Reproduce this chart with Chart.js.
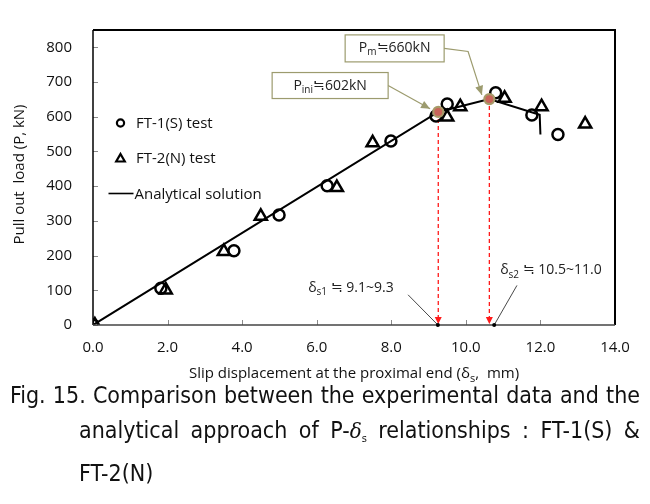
<!DOCTYPE html>
<html><head><meta charset="utf-8">
<script src="https://cdn.jsdelivr.net/npm/chart.js@4.4.1/dist/chart.umd.min.js"></script>
<style>
html,body{margin:0;padding:0;background:#fff;width:650px;height:504px;overflow:hidden;}
#wrap{position:absolute;left:0;top:0;width:650px;height:384px;}
#cap{position:absolute;left:10px;top:378px;width:630px;font-family:"Liberation Sans Narrow","DejaVu Sans Condensed",sans-serif;font-size:23px;line-height:35px;color:#111;}
.l{text-align:justify;text-align-last:justify;}
.ind{margin-left:69px;}
.l3{margin-left:69px;}
i{font-family:"DejaVu Serif",serif;font-size:20px;}
sub{font-size:11px;vertical-align:-4px;}
</style></head>
<body>
<div id="wrap"><canvas id="c" width="650" height="384"></canvas></div>
<div id="cap">
<div class="l">Fig. 15. Comparison between the experimental data and the</div>
<div class="l ind">analytical approach of P-<i>δ</i><sub>s</sub> relationships : FT-1(S) &amp;</div>
<div class="l3">FT-2(N)</div>
</div>
<script>
// ---- data ----
const xTickLabels = ['0.0','2.0','4.0','6.0','8.0','10.0','12.0','14.0'];
const yTickLabels = ['0','100','200','300','400','500','600','700','800'];
const ft1X = [0, 1.82, 3.78, 4.99, 6.28, 7.99, 9.2, 9.5, 10.8, 11.77, 12.47];
const ft1P = [0, 106, 214, 317, 401, 530, 602, 637, 669, 605, 549];
const ft2X = [0.05, 1.95, 3.51, 4.5, 6.54, 7.5, 9.5, 9.85, 11.04, 12.03, 13.2];
const ft2P = [0, 101, 212, 313, 396, 525, 599, 629, 653, 629, 579];
const anaX = [0, 9.26, 10.63, 11.98, 12.0];
const anaP = [0, 614, 651, 606, 549];
const keyX = [9.26, 10.63];
const keyP = [614, 651];
const seriesNames = ['FT-1(S) test','FT-2(N) test','Analytical solution'];

const pts = (xs, ys) => xs.map((x,i)=>({x:x, y:ys[i]}));
const FONT = '"Open Sans", sans-serif';

function drawParts(ctx, parts, x, y, size, color, align) {
  ctx.save();
  ctx.fillStyle = color; ctx.textBaseline = 'middle'; ctx.textAlign = 'left';
  let w = 0;
  parts.forEach(p => { ctx.font = (p[1] ? Math.round(size*0.72) : size) + 'px ' + FONT; w += ctx.measureText(p[0]).width; });
  let cx = align === 'center' ? x - w/2 : x;
  parts.forEach(p => {
    ctx.font = (p[1] ? Math.round(size*0.72) : size) + 'px ' + FONT;
    ctx.fillText(p[0], cx, p[1] ? y + size*0.3 : y);
    cx += ctx.measureText(p[0]).width;
  });
  ctx.restore();
}
function arrowHead(ctx, fx, fy, tx, ty, len, wid, color) {
  const a = Math.atan2(ty-fy, tx-fx);
  ctx.save(); ctx.fillStyle = color; ctx.beginPath();
  ctx.moveTo(tx, ty);
  ctx.lineTo(tx - len*Math.cos(a) + wid*Math.sin(a), ty - len*Math.sin(a) - wid*Math.cos(a));
  ctx.lineTo(tx - len*Math.cos(a) - wid*Math.sin(a), ty - len*Math.sin(a) + wid*Math.cos(a));
  ctx.closePath(); ctx.fill(); ctx.restore();
}

const deco = {
  id: 'deco',
  beforeDraw(chart) {
    const ctx = chart.ctx; ctx.save(); ctx.fillStyle = '#fff';
    ctx.fillRect(0,0,chart.width,chart.height); ctx.restore();
  },
  beforeDatasetsDraw(chart) {
    const ctx = chart.ctx, xs = chart.scales.x, ys = chart.scales.y, ca = chart.chartArea;
    ctx.save();
    // inward tick marks
    ctx.strokeStyle = '#8a8a8a'; ctx.lineWidth = 1;
    xs.ticks.forEach(t => { const px = Math.round(xs.getPixelForValue(t.value))+0.5;
      ctx.beginPath(); ctx.moveTo(px, ca.bottom); ctx.lineTo(px, ca.bottom-5); ctx.stroke(); });
    ys.ticks.forEach(t => { const py = Math.round(ys.getPixelForValue(t.value))+0.5;
      ctx.beginPath(); ctx.moveTo(ca.left, py); ctx.lineTo(ca.left+5, py); ctx.stroke(); });
    // red dashed drop lines
    ctx.strokeStyle = '#ff1a1a'; ctx.lineWidth = 1.3; ctx.setLineDash([4,3]);
    keyX.forEach((kx,i) => {
      const px = xs.getPixelForValue(kx), py = ys.getPixelForValue(keyP[i]);
      ctx.beginPath(); ctx.moveTo(px, py); ctx.lineTo(px, ca.bottom-6); ctx.stroke();
    });
    ctx.setLineDash([]);
    keyX.forEach(kx => { const px = xs.getPixelForValue(kx);
      arrowHead(ctx, px, ca.bottom-20, px, ca.bottom-1, 7, 3.5, '#ff1a1a'); });
    ctx.restore();
  },
  afterDatasetsDraw(chart) {
    const ctx = chart.ctx, xs = chart.scales.x, ys = chart.scales.y, ca = chart.chartArea;
    const X = v => xs.getPixelForValue(v), Y = v => ys.getPixelForValue(v);
    ctx.save();
    // frame
    ctx.strokeStyle = '#000'; ctx.lineWidth = 2;
    ctx.beginPath(); ctx.moveTo(ca.left, ca.top); ctx.lineTo(ca.right, ca.top); ctx.lineTo(ca.right, ca.bottom); ctx.stroke();
    ctx.lineWidth = 1.5;
    ctx.beginPath(); ctx.moveTo(ca.left, ca.top); ctx.lineTo(ca.left, ca.bottom); ctx.stroke();
    ctx.strokeStyle = '#444';
    ctx.beginPath(); ctx.moveTo(ca.left, ca.bottom); ctx.lineTo(ca.right, ca.bottom); ctx.stroke();

    // legend
    const lx = ca.left + 27.5, tx = ca.left + 43;
    ctx.strokeStyle = '#000'; ctx.lineWidth = 2.2;
    ctx.beginPath(); ctx.arc(lx, ca.top+93, 3.6, 0, Math.PI*2); ctx.stroke();
    ctx.beginPath(); ctx.moveTo(lx, ca.top+124); ctx.lineTo(lx+4.3, ca.top+131.5); ctx.lineTo(lx-4.3, ca.top+131.5); ctx.closePath(); ctx.stroke();
    ctx.lineWidth = 1.6;
    ctx.beginPath(); ctx.moveTo(ca.left+15.5, ca.top+163.5); ctx.lineTo(ca.left+40.5, ca.top+163.5); ctx.stroke();
    drawParts(ctx, [[seriesNames[0]]], tx, ca.top+94, 15, '#111');
    drawParts(ctx, [[seriesNames[1]]], tx, ca.top+129, 15, '#111');
    drawParts(ctx, [[seriesNames[2]]], ca.left+41.5, ca.top+165, 15, '#111');

    // annotation boxes
    const olive = '#9c9b6e';
    function box(cxv, cyv, w, h, parts) {
      const cx = X(cxv), cy = Y(cyv);
      ctx.save(); ctx.fillStyle = '#fff'; ctx.strokeStyle = olive; ctx.lineWidth = 1.2;
      ctx.fillRect(cx-w/2, cy-h/2, w, h); ctx.strokeRect(cx-w/2, cy-h/2, w, h); ctx.restore();
      drawParts(ctx, parts, cx, cy, 14, '#222', 'center');
      return {r: cx + w/2, cy: cy};
    }
    const bi = box(6.36, 690, 116, 26, [['P'],['ini',1],['≒602kN']]);
    const bm = box(8.09, 797, 99, 27, [['P'],['m',1],['≒660kN']]);
    ctx.strokeStyle = olive; ctx.lineWidth = 1.2;
    // arrow to P_ini
    let ex = X(9.04), ey = Y(623);
    ctx.beginPath(); ctx.moveTo(bi.r, bi.cy); ctx.lineTo(ex, ey); ctx.stroke();
    arrowHead(ctx, bi.r, bi.cy, ex, ey, 9, 4, olive);
    // arrow to P_m
    const mx = X(10.06), my = Y(788);
    ex = X(10.43); ey = Y(663);
    ctx.beginPath(); ctx.moveTo(bm.r, bm.cy); ctx.lineTo(mx, my); ctx.lineTo(ex, ey); ctx.stroke();
    arrowHead(ctx, mx, my, ex, ey, 9, 4, olive);

    // delta labels with leader lines
    ctx.strokeStyle = '#333'; ctx.lineWidth = 0.9;
    ctx.beginPath(); ctx.moveTo(X(8.45), Y(87)); ctx.lineTo(X(9.25), Y(0)); ctx.stroke();
    ctx.beginPath(); ctx.moveTo(X(11.37), Y(114)); ctx.lineTo(X(10.76), Y(0)); ctx.stroke();
    ctx.fillStyle = '#000';
    [9.25, 10.76].forEach(v => { ctx.beginPath(); ctx.arc(X(v), Y(0), 2, 0, Math.PI*2); ctx.fill(); });
    drawParts(ctx, [['δ'],['s1',1],[' ≒ 9.1~9.3']], X(5.77), Y(108), 14, '#222');
    drawParts(ctx, [['δ'],['s2',1],[' ≒ 10.5~11.0']], X(10.92), Y(157), 14, '#222');

    // axis titles
    drawParts(ctx, [['Slip displacement at the proximal end (δ'],['s',1],[',  mm)']], (ca.left+ca.right)/2, 374, 15, '#111', 'center');
    ctx.save(); ctx.translate(20, (ca.top+ca.bottom)/2 - 3); ctx.rotate(-Math.PI/2);
    drawParts(ctx, [['Pull out  load (P, kN)']], 0, 0, 15, '#111', 'center');
    ctx.restore();
    ctx.restore();
  }
};

new Chart(document.getElementById('c'), {
  type: 'scatter',
  data: { datasets: [
    { label: 'key', data: pts(keyX, keyP), pointStyle: 'circle', pointRadius: 5, backgroundColor: '#c8645a', borderColor: '#a89a68', borderWidth: 2.2 },
    { label: seriesNames[0], data: pts(ft1X, ft1P), pointStyle: 'circle', pointRadius: 5.5, backgroundColor: 'rgba(0,0,0,0)', borderColor: '#000', borderWidth: 2.5 },
    { label: seriesNames[1], data: pts(ft2X, ft2P), pointStyle: 'triangle', pointRadius: 7, backgroundColor: 'rgba(0,0,0,0)', borderColor: '#000', borderWidth: 2.5 },
    { label: seriesNames[2], type: 'line', data: pts(anaX, anaP), showLine: true, borderColor: '#000', borderWidth: 2, pointRadius: 0, tension: 0, fill: false }
  ]},
  options: {
    responsive: false, animation: false, devicePixelRatio: 1,
    layout: { padding: { top: 11, right: 35, left: 0, bottom: 0 } },
    plugins: { legend: { display: false }, tooltip: { enabled: false } },
    scales: {
      x: { type: 'linear', min: 0, max: 14,
        afterBuildTicks: s => { s.ticks = xTickLabels.map(t => ({ value: parseFloat(t) })); },
        afterFit: s => { s.height = 384 - 325; },
        ticks: { callback: (v, i) => xTickLabels[i], color: '#111', padding: 14, font: { family: 'Open Sans', size: 15 }, maxRotation: 0, autoSkip: false },
        grid: { display: false, drawTicks: false }, border: { display: false } },
      y: { type: 'linear', min: 0, max: 850,
        afterBuildTicks: s => { s.ticks = yTickLabels.map(t => ({ value: parseFloat(t) })); },
        afterFit: s => { s.width = 93; },
        ticks: { callback: (v, i) => yTickLabels[i], color: '#111', padding: 21, font: { family: 'Open Sans', size: 15 }, autoSkip: false },
        grid: { display: false, drawTicks: false }, border: { display: false } }
    }
  },
  plugins: [deco]
});
</script>
</body></html>
